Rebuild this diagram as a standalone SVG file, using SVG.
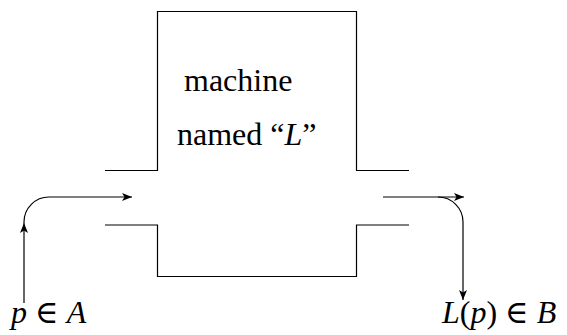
<svg xmlns="http://www.w3.org/2000/svg" width="567" height="335" viewBox="0 0 567 335">
<style>
.ln{fill:none;stroke:#000;stroke-width:1.2}
.t{font-family:"Liberation Serif","Times New Roman","DejaVu Serif",serif;font-size:32px;fill:#000}
.i{font-style:italic}
</style>
<defs>
<marker id="ah" markerWidth="12" markerHeight="8" refX="10" refY="4" orient="auto" markerUnits="userSpaceOnUse">
<path d="M0,0 L10,4 L0,8 L2.5,4 Z" fill="#000"/>
</marker>
</defs>
<rect width="567" height="335" fill="#fff"/>
<g id="machine">
<path class="ln" d="M105,170.5 H157.5 V11.5 H356.5 V170.5 H409"/>
<path class="ln" d="M105,225 H157.5 V276.5 H356.5 V225 H409"/>
<text class="t" x="184" y="91">machine</text>
<text class="t" x="177" y="145">named “<tspan class="i">L</tspan>”</text>
</g>
<g id="connectors">
<path class="ln" d="M24,303 V223" marker-end="url(#ah)"/>
<path class="ln" d="M24,223 V222 A25,25 0 0 1 49,197 H132" marker-end="url(#ah)"/>
<path class="ln" d="M383,197 H464" marker-end="url(#ah)"/>
<path class="ln" d="M438,197 A25,25 0 0 1 463,222 V300" marker-end="url(#ah)"/>
</g>
<g id="input">
<text class="t" x="11" y="323"><tspan class="i">p</tspan> ∈ <tspan class="i">A</tspan></text>
</g>
<g id="output">
<text class="t" x="442" y="323"><tspan class="i">L</tspan>(<tspan class="i">p</tspan>) ∈ <tspan class="i">B</tspan></text>
</g>
</svg>
